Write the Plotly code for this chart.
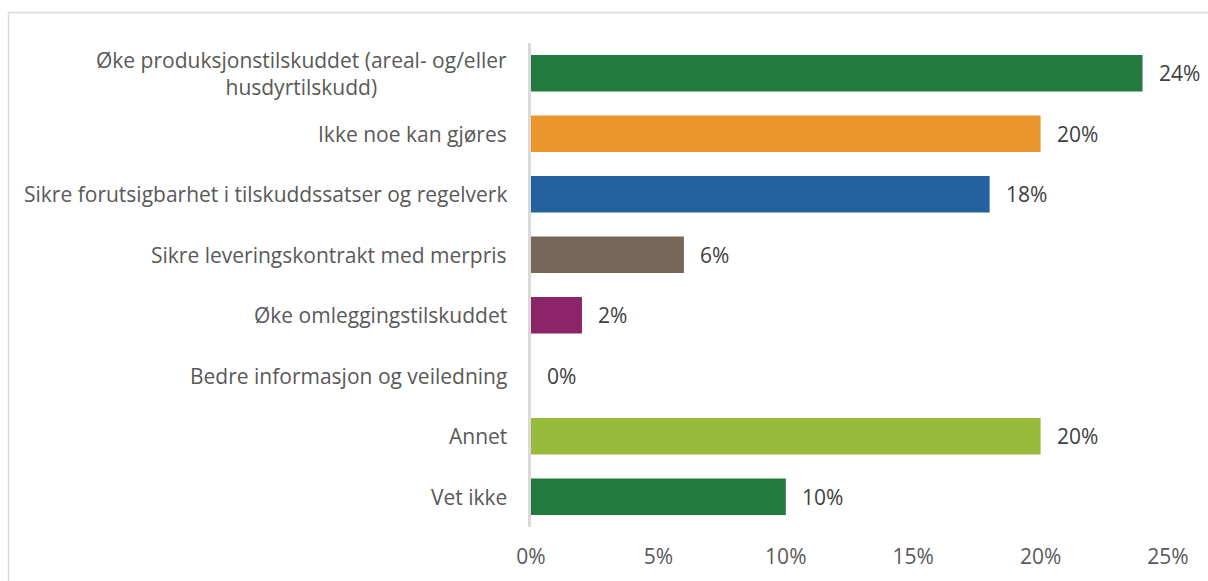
import plotly.graph_objects as go

categories = [
    "Øke produksjonstilskuddet (areal- og/eller<br>husdyrtilskudd)",
    "Ikke noe kan gjøres",
    "Sikre forutsigbarhet i tilskuddssatser og regelverk",
    "Sikre leveringskontrakt med merpris",
    "Øke omleggingstilskuddet",
    "Bedre informasjon og veiledning",
    "Annet",
    "Vet ikke",
]
values = [24, 20, 18, 6, 2, 0, 20, 10]
bar_colors = ["#227A3E", "#EB962C", "#25619F", "#766758", "#8B2469", "#8B2469", "#99BB3B", "#227A3E"]
x_ticks = [0, 5, 10, 15, 20, 25]
x_tick_text = ["0%", "5%", "10%", "15%", "20%", "25%"]

W, H = 1208, 581
L, R, T, B = 531, 40, 43, 54
FONT = "Open Sans"
FS = 21

fig = go.Figure()
fig.add_trace(go.Bar(
    x=values, y=list(range(len(categories))), orientation="h",
    marker=dict(color=bar_colors, line=dict(width=0)), width=0.6,
    hoverinfo="skip",
))

# category labels (centered multi-line, right edge near axis)
for i, c in enumerate(categories):
    fig.add_annotation(x=0, y=i, xref="paper", yref="y", text=c, showarrow=False,
                       xanchor="right", yanchor="middle", align="center", xshift=-22,
                       font=dict(family=FONT, size=FS, color="#595959"))

# value labels
for i, v in enumerate(values):
    fig.add_annotation(x=v, y=i, xref="x", yref="y", text=f"{v}%", showarrow=False,
                       xanchor="left", yanchor="middle", xshift=14,
                       font=dict(family=FONT, size=FS, color="#404040"))

# outer frame
pw, ph = W - L - R, H - T - B
fig.add_shape(type="rect", xref="paper", yref="paper",
              x0=(8.5 - L) / pw, x1=(W + 20 - L) / pw,
              y0=-(B + 20) / ph, y1=(H - B - 12.5) / ph,
              line=dict(color="#D9D9D9", width=1.5), fillcolor="rgba(0,0,0,0)")

fig.update_layout(
    width=W, height=H,
    margin=dict(l=L, r=R, t=T, b=B),
    plot_bgcolor="white", paper_bgcolor="white",
    showlegend=False,
    font=dict(family=FONT, size=FS, color="#595959"),
)
fig.update_xaxes(range=[0, 25], tickmode="array", tickvals=x_ticks, ticktext=x_tick_text,
                 showgrid=False, zeroline=False, showline=False, ticks="", ticklabelstandoff=15,
                 tickfont=dict(family=FONT, size=FS, color="#595959"))
fig.update_yaxes(range=[len(categories) - 0.5, -0.5], showticklabels=False, showgrid=False,
                 zeroline=False, showline=True, linecolor="#D9D9D9", linewidth=3, ticks="")

fig.write_html("out.html", config={"displayModeBar": False},
               post_script="document.body.style.margin='0';")
